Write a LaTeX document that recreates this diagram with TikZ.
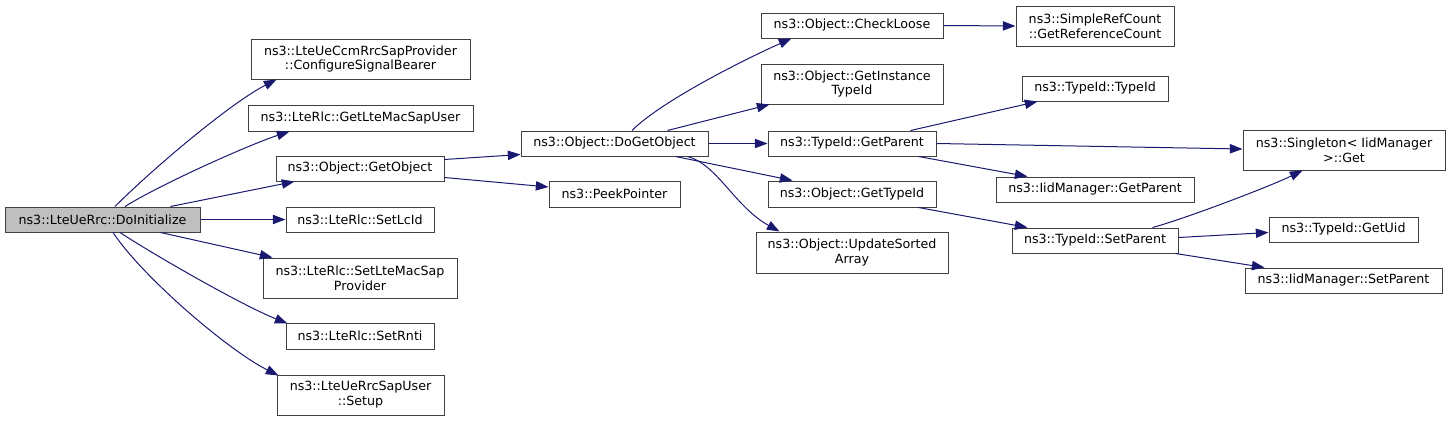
\documentclass[tikz,border=0pt]{standalone}
\usepackage{fontspec}
\setmainfont{DejaVu Sans}
\usetikzlibrary{arrows.meta,calc}
\definecolor{navy}{RGB}{25,25,112}
\definecolor{charcoal}{RGB}{64,64,64}
\definecolor{silver}{RGB}{191,191,191}

\begin{document}
\begin{tikzpicture}[x=0.75pt,y=-0.75pt,
  font=\fontsize{9.5}{11.2}\selectfont,
  fn/.style 2 args={draw=charcoal,line width=0.75pt,fill=white,inner sep=0pt,
    align=center,minimum width=#1*0.75pt,minimum height=#2*0.75pt},
  call/.style={navy,line width=0.75pt,-{Triangle[length=9.5pt,width=7pt]}}]
\useasboundingbox (0,0) rectangle (1451,421);

% Caller
\node[fn={195}{25},fill=silver] (root) at (102.5,219.5) {ns3::LteUeRrc::DoInitialize};

% First level
\node[fn={219}{40}] (csb) at (360.5,59) {ns3::LteUeCcmRrcSapProvider\\::ConfigureSignalBearer};
\node[fn={225}{26}] (gmsu) at (360.5,118) {ns3::LteRlc::GetLteMacSapUser};
\node[fn={168}{25}] (gobj) at (360,168.5) {ns3::Object::GetObject};
\node[fn={148}{25}] (slc) at (360,219.5) {ns3::LteRlc::SetLcId};
\node[fn={194}{40}] (slmsp) at (360,278) {ns3::LteRlc::SetLteMacSap\\Provider};
\node[fn={148}{26}] (srnti) at (360,336) {ns3::LteRlc::SetRnti};
\node[fn={167}{40}] (setup) at (360.5,395) {ns3::LteUeRrcSapUser\\::Setup};

% Second level
\node[fn={187}{25}] (dgo) at (614.5,143.5) {ns3::Object::DoGetObject};
\node[fn={131}{26}] (peek) at (614.5,194) {ns3::PeekPointer};

% Third level
\node[fn={182}{25}] (chk) at (852,25.5) {ns3::Object::CheckLoose};
\node[fn={182}{40}] (git) at (852,84) {ns3::Object::GetInstance\\TypeId};
\node[fn={168}{25}] (tgp) at (852,143.5) {ns3::TypeId::GetParent};
\node[fn={168}{26}] (gti) at (852,194) {ns3::Object::GetTypeId};
\node[fn={192}{41}] (usa) at (852,252.5) {ns3::Object::UpdateSorted\\Array};

% Fourth level
\node[fn={158}{40}] (src) at (1095,26) {ns3::SimpleRefCount\\::GetReferenceCount};
\node[fn={146}{25}] (tti) at (1095,88.5) {ns3::TypeId::TypeId};
\node[fn={198}{25}] (igp) at (1095,189.5) {ns3::IidManager::GetParent};
\node[fn={166}{25}] (tsp) at (1095,240.5) {ns3::TypeId::SetParent};

% Fifth level
\node[fn={202}{40}] (sing) at (1344,150) {ns3::Singleton< IidManager\\>::Get};
\node[fn={149}{25}] (uid) at (1343.5,229.5) {ns3::TypeId::GetUid};
\node[fn={197}{25}] (isp) at (1343.5,280.5) {ns3::IidManager::SetParent};

% Calls from the caller
\draw[call] ($(root.north)+(12.5,0)$) .. controls +(40,-40) and +(-45,23) .. ($(csb.south west)+(26,0)$);
\draw[call] ($(root.north)+(22.5,0)$) .. controls +(35,-22) and +(-40,13) .. ($(gmsu.south west)+(42,0)$);
\draw[call] ($(root.north east)+(-30,0)$) -- ($(gobj.south west)+(19,0)$);
\draw[call] (root.east) -- (slc.west);
\draw[call] ($(root.south east)+(-40,0)$) -- ($(slmsp.north west)+(10,0)$);
\draw[call] ($(root.south)+(17.5,0)$) .. controls +(35,23) and +(-45,-18) .. ($(srnti.north west)+(2,1)$);
\draw[call] ($(root.south)+(10.5,0)$) .. controls +(30,45) and +(-50,-25) .. ($(setup.north west)+(2,1)$);

% Calls from GetObject
\draw[call] ($(gobj.north east)+(0,4)$) -- ($(dgo.south west)+(0,-2)$);
\draw[call] ($(gobj.south east)+(0,-4)$) -- ($(peek.west)+(0,-7)$);

% Calls from DoGetObject
\draw[call] ($(dgo.north)+(17.5,0)$) .. controls +(30,-30) and +(-45,20) .. ($(chk.south west)+(31,0)$);
\draw[call] ($(dgo.north east)+(-41,0)$) -- ($(git.south west)+(9,0)$);
\draw[call] (dgo.east) -- (tgp.west);
\draw[call] ($(dgo.south east)+(-33,0)$) -- ($(gti.north west)+(25,0)$);
\draw[call] ($(dgo.south east)+(-21,0)$) .. controls +(30,8) and +(-45,-25) .. ($(usa.north west)+(24,0)$);

% Calls further right
\draw[call] (chk.east) -- (src.west);
\draw[call] ($(tgp.north east)+(-26,0)$) -- ($(tti.south west)+(16,0)$);
\draw[call] (tgp.east) -- ($(sing.west)+(0,-1)$);
\draw[call] ($(tgp.south east)+(-18,0)$) -- ($(igp.north west)+(32,0)$);
\draw[call] ($(gti.south east)+(-18,0)$) -- ($(tsp.north west)+(16,0)$);
\draw[call] ($(tsp.north east)+(-26,0)$) .. controls +(30,-8) and +(-35,17) .. ($(sing.south west)+(60,0)$);
\draw[call] ($(tsp.east)+(0,-3)$) -- ($(uid.west)+(0,3)$);
\draw[call] ($(tsp.south east)+(-3,0)$) -- ($(isp.north west)+(20,0)$);
\end{tikzpicture}
\end{document}
